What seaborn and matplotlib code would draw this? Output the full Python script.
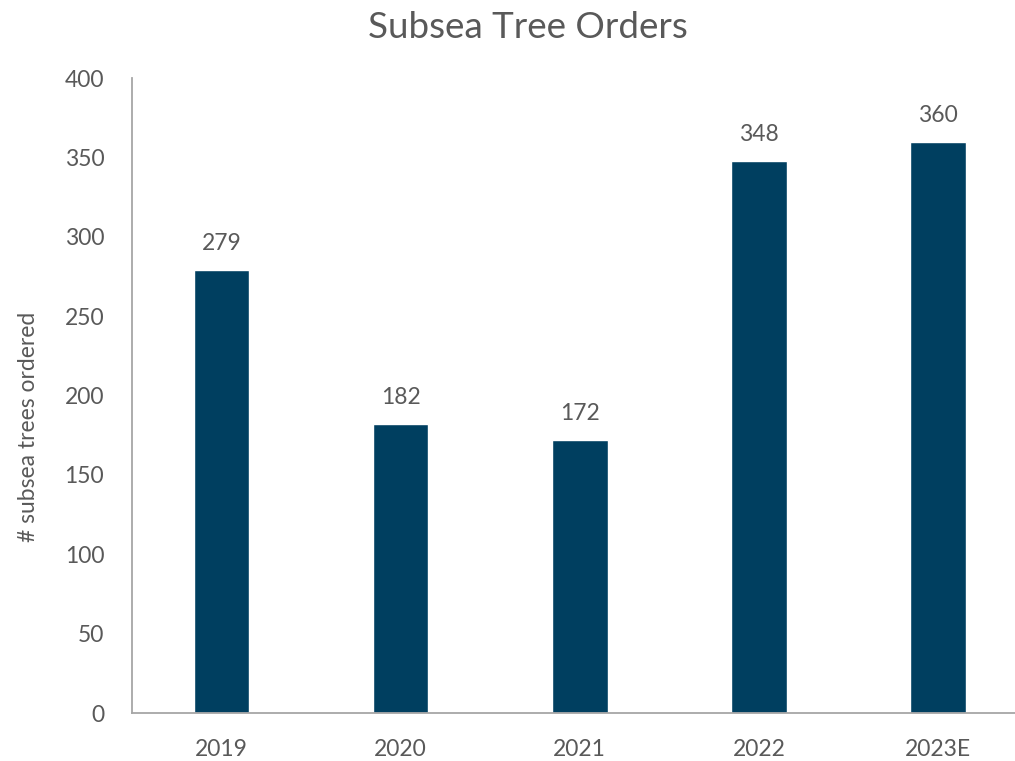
import matplotlib
matplotlib.use("Agg")
import matplotlib.pyplot as plt
import seaborn as sns
import pandas as pd

years = ["2019", "2020", "2021", "2022", "2023E"]
orders = [279, 182, 172, 348, 360]

sns.set_style("white")
plt.rcParams['font.family'] = ['Lato', 'DejaVu Sans']

grey = "#595959"
bar_color = "#003F60"

df = pd.DataFrame({"year": years, "orders": orders})

fig = plt.figure(figsize=(10.15, 7.61), dpi=100)
ax = fig.add_axes([0.130, 0.063, 0.870, 0.8345])

sns.barplot(data=df, x="year", y="orders", color=bar_color, width=0.31,
            saturation=1, ax=ax)

# value labels above each bar
for i, v in enumerate(orders):
    ax.text(i, v + 10, str(v), ha="center", va="bottom", fontsize=16.5, color=grey)

ax.set_xlim(-0.5, 4.43)
ax.set_ylim(0, 400)
ax.set_yticks(range(0, 401, 50))
ax.set_xlabel("")
ax.set_ylabel("# subsea trees ordered", fontsize=16.5, color=grey)
ax.yaxis.set_label_coords(-0.105, 0.45)
ax.tick_params(axis="both", length=0, labelsize=16.5, colors=grey)
ax.tick_params(axis="x", pad=19)
ax.tick_params(axis="y", pad=20)

for s in ["top", "right"]:
    ax.spines[s].set_visible(False)
for s in ["left", "bottom"]:
    ax.spines[s].set_color("#A6A6A6")
    ax.spines[s].set_linewidth(1.3)

fig.suptitle("Subsea Tree Orders", x=0.52, y=0.985, fontsize=26.5, color=grey)

fig.savefig("out.png", dpi=100)
